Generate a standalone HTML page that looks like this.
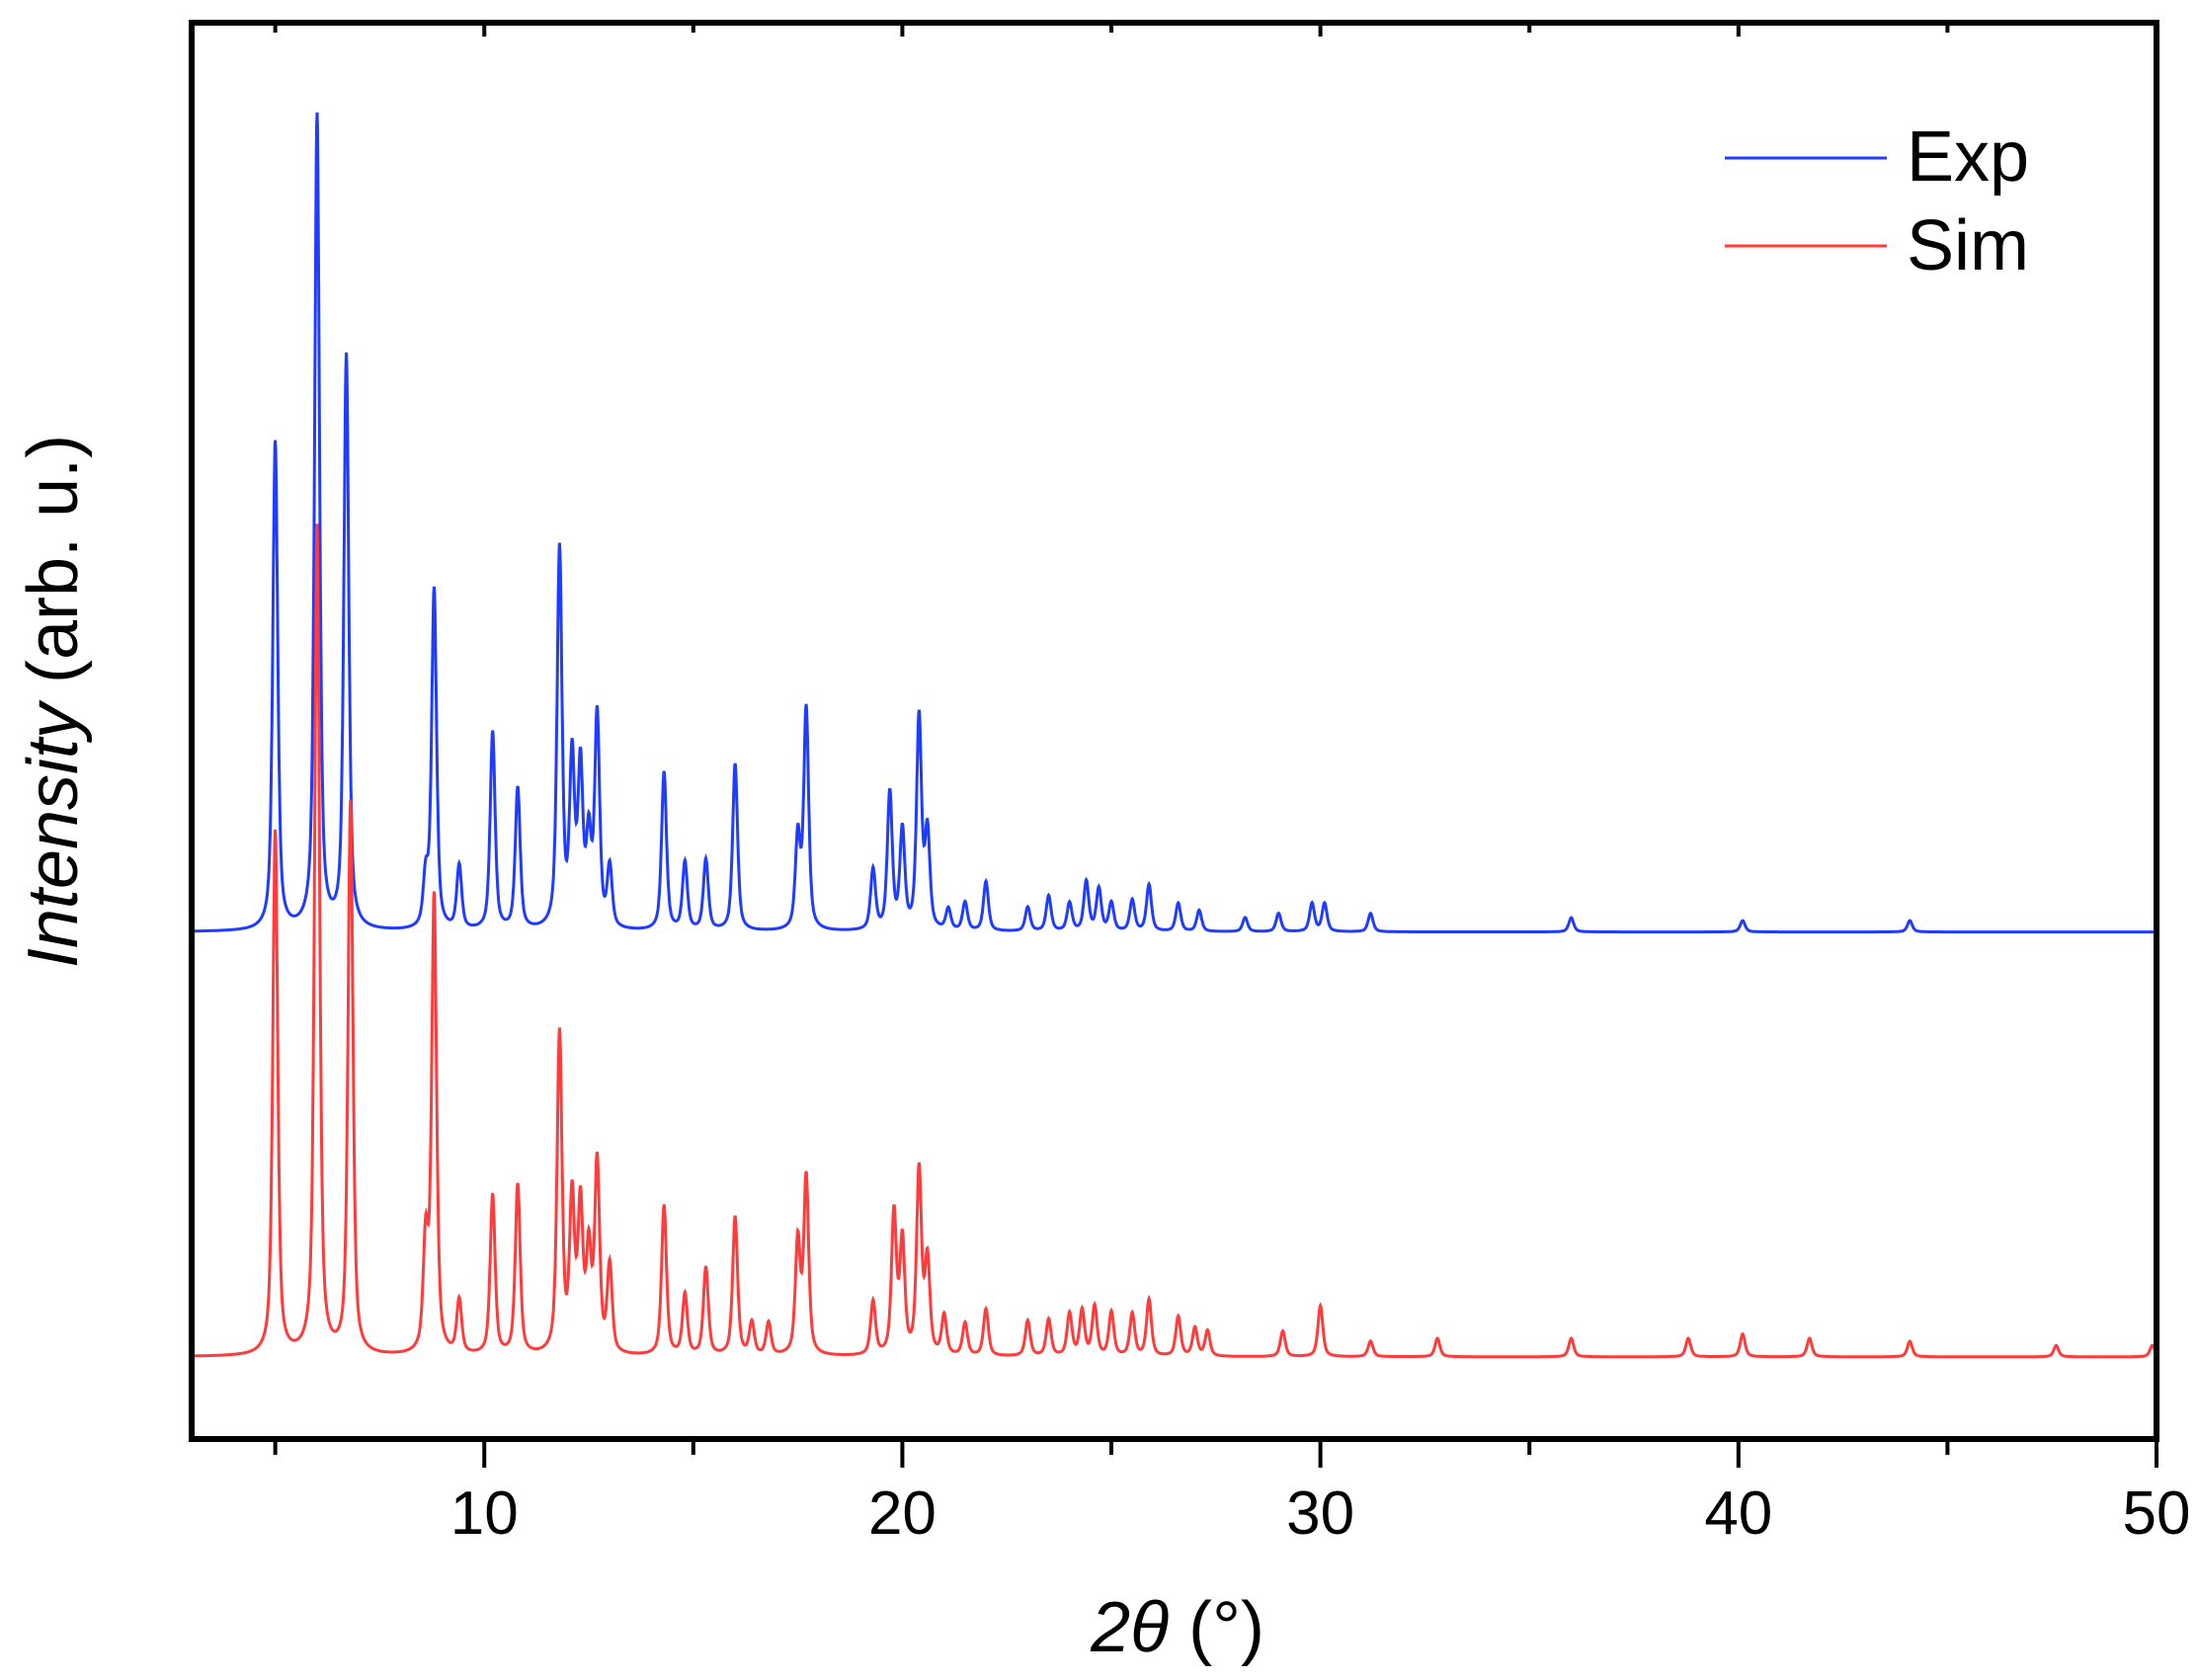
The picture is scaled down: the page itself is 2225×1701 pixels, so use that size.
<!DOCTYPE html>
<html><head><meta charset="utf-8"><style>
html,body{margin:0;padding:0;background:#fff;}
svg{display:block;}
text{font-family:"Liberation Sans",Arial,sans-serif;fill:#000;}
</style></head><body>
<svg id="chart" width="2225" height="1701" viewBox="0 0 2225 1701" xmlns="http://www.w3.org/2000/svg">
<g id="plot"></g>
<rect x="194" y="23" width="1989" height="1434" fill="none" stroke="#000" stroke-width="6"/>
<g id="ticks"></g>
<text x="1192" y="1672" font-size="72" text-anchor="middle"><tspan font-style="italic">2θ</tspan> (°)</text>
<text transform="translate(78,710) rotate(-90)" font-size="72" text-anchor="middle"><tspan font-style="italic">Intensity</tspan> (arb. u.)</text>
<g>
<line x1="1746" y1="160" x2="1910" y2="160" stroke="#1f3cff" stroke-width="3"/>
<text x="1930" y="183" font-size="72">Exp</text>
<line x1="1746" y1="249" x2="1910" y2="249" stroke="#ff3b3b" stroke-width="3"/>
<text x="1930" y="273" font-size="72">Sim</text>
</g>
</svg>
<script>
const xTicks=[10,20,30,40,50];
const expOffset=358;
const simOffset=58;
const expPos=[5.0,6.0,6.7,8.6,8.8,9.4,10.2,10.8,11.8,12.1,12.3,12.5,12.7,13.0,14.3,14.8,15.3,16.0,17.5,17.7,19.3,19.7,20.0,20.4,20.6,21.1,21.5,22.0,23.0,23.5,24.0,24.4,24.7,25.0,25.5,25.9,26.6,27.1,28.2,29.0,29.8,30.1,31.2,36.0,40.1,44.1];
const expH=[345,575,405,35,240,45,140,100,268,118,112,62,150,43,112,48,50,118,65,156,43,97,70,150,68,15,20,35,17,25,20,35,30,20,22,33,20,15,10,13,20,20,13,10,8,8];
const simPos=[5.0,6.0,6.8,8.6,8.8,9.4,10.2,10.8,11.8,12.1,12.3,12.5,12.7,13.0,14.3,14.8,15.3,16.0,16.4,16.8,17.5,17.7,19.3,19.8,20.0,20.4,20.6,21.0,21.5,22.0,23.0,23.5,24.0,24.3,24.6,25.0,25.5,25.9,26.6,27.0,27.3,29.1,30.0,31.2,32.8,36.0,38.8,40.1,41.7,44.1,47.6,49.9];
const simH=[370,585,390,78,322,38,113,120,226,108,103,70,134,62,106,43,62,98,23,23,80,125,38,100,80,130,66,28,23,33,25,26,30,32,35,31,30,40,28,20,18,18,36,11,13,13,13,16,13,11,8,8];
const L=194,R=2183,T=23,B=1457,xmin=3,xmax=50;
const xS=v=>L+(v-xmin)/(xmax-xmin)*(R-L);
const yS=v=>B-v*(B-T)/1000;
const NS='http://www.w3.org/2000/svg';
function curve(pos,h,off,w){
  let d='';
  for(let x=xmin;x<=xmax+1e-9;x+=0.01){
    let y=off;
    for(let i=0;i<pos.length;i++){const t=(x-pos[i])/w;y+=h[i]*(0.6/(1+t*t)+0.4*Math.exp(-0.693*t*t));}
    d+=(d?'L':'M')+xS(x).toFixed(1)+','+yS(y).toFixed(1);
  }
  return d;
}
const plot=document.getElementById('plot');
const pe=document.createElementNS(NS,'path');
pe.setAttribute('d',curve(expPos,expH,expOffset,0.07));
pe.setAttribute('fill','none');pe.setAttribute('stroke','#1f3cff');pe.setAttribute('stroke-width','3');


plot.appendChild(pe);
const ps=document.createElementNS(NS,'path');
ps.setAttribute('d',curve(simPos,simH,simOffset,0.07));
ps.setAttribute('fill','none');ps.setAttribute('stroke','#ff3b3b');ps.setAttribute('stroke-width','3');


plot.appendChild(ps);
const tg=document.getElementById('ticks');
for(let v=5;v<=50;v+=5){
  const major=v%10===0;
  const x=xS(v);
  const l=document.createElementNS(NS,'line');
  l.setAttribute('x1',x);l.setAttribute('x2',x);l.setAttribute('y1',B);l.setAttribute('y2',B+(major?29:16));
  l.setAttribute('stroke','#000');l.setAttribute('stroke-width','4');
  
  
  tg.appendChild(l);
  const l2=document.createElementNS(NS,'line');
  l2.setAttribute('x1',x);l2.setAttribute('x2',x);l2.setAttribute('y1',T);l2.setAttribute('y2',T+(major?14:10));
  l2.setAttribute('stroke','#000');l2.setAttribute('stroke-width','4');
  
  
  tg.appendChild(l2);
}
xTicks.forEach(v=>{
  const t=document.createElementNS(NS,'text');
  t.setAttribute('x',xS(v));t.setAttribute('y',1553);t.setAttribute('font-size','62');t.setAttribute('text-anchor','middle');
  t.textContent=v;
  
  
  tg.appendChild(t);
});
</script>
</body></html>
